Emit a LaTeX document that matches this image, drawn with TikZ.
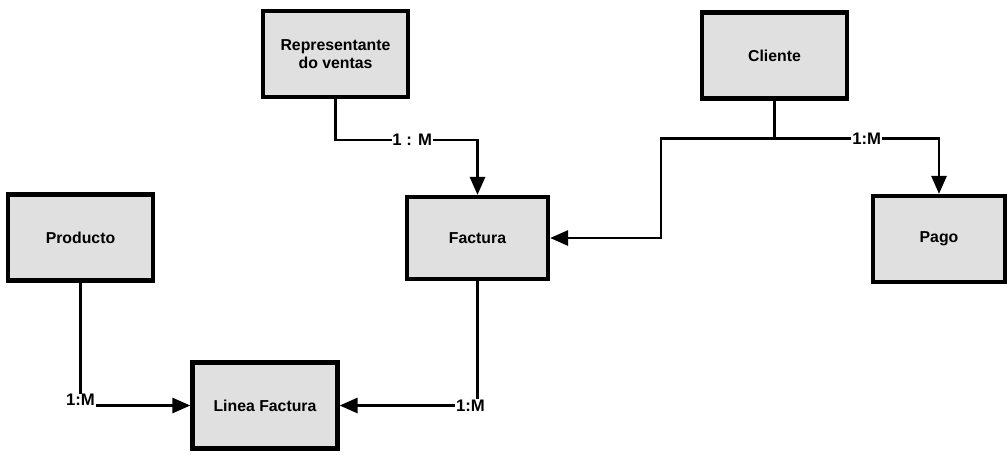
\documentclass[tikz,border=0pt]{standalone}
\usepackage{fontspec}
\setmainfont{Liberation Sans}
\usepackage{tikz}
\usetikzlibrary{arrows.meta, positioning, calc}
\definecolor{boxfill}{RGB}{224,224,224}

\begin{document}
\begin{tikzpicture}[
    entity/.style={draw, line width=2.4pt, fill=boxfill, minimum width=2.9cm,
      minimum height=1.72cm, align=center, inner sep=2pt,
      font=\fontsize{9}{10.5}\selectfont\bfseries},
    link/.style={line width=1.6pt, -{Triangle[length=3.6mm, width=3mm]}},
    card/.style={fill=white, inner sep=0.5pt, font=\fontsize{9.5}{10}\selectfont\bfseries}]
  \useasboundingbox (0,0) rectangle (20.14,-9.08);
  \node[entity] (rep) at (6.71,-1.08) {Representante\\do ventas};
  \node[entity] (cli) at (15.49,-1.11) {Cliente};
  \node[entity] (pro) at (1.61,-4.75) {Producto};
  \node[entity, minimum width=2.82cm, minimum height=1.64cm] (fac) at (9.55,-4.76) {Factura};
  \node[entity, minimum width=2.64cm] (pag) at (18.78,-4.78) {Pago};
  \node[entity] (lin) at (5.30,-8.11) {Linea Factura};
  % bends of the connectors
  \coordinate (repbend) at ($(fac.north |- 0,-2.8)$);
  \coordinate (clileft) at (13.22,-2.77);
  \coordinate (cliright) at ($(pag.north |- clileft)$);
  \draw[link] (rep.south) |- (repbend) node[card, pos=0.77] {1 : M} -- (fac.north);
  \draw[link] (cli.south) |- (clileft) |- (fac.east);
  \draw[link] (cli.south) |- (cliright) node[card, pos=0.78] {1:M} -- (pag.north);
  \draw[link] (pro.south) |- node[card, pos=0.5, yshift=3pt] {1:M} (lin.west);
  \draw[link] (fac.south) |- node[card, pos=0.5, xshift=-4pt] {1:M} (lin.east);
\end{tikzpicture}
\end{document}
